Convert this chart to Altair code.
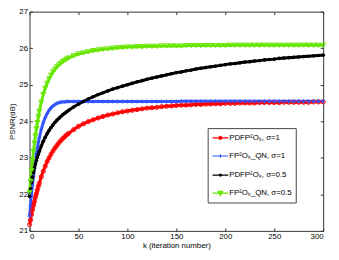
import altair as alt
import pandas as pd

k_vals = [0, 1, 2, 3, 4, 5, 6, 7, 8, 9, 10,
          12, 14, 16, 18, 20, 22, 24, 26, 28, 30, 32, 34, 36, 38, 40,
          45, 50, 55, 60, 65, 70, 75, 80, 85, 90,
          95, 100, 105, 110, 115, 120, 125, 130, 135, 140,
          145, 150, 155, 160, 165, 170, 175, 180, 185, 190,
          195, 200, 205, 210, 215, 220, 225, 230, 235, 240,
          245, 250, 255, 260, 265, 270, 275, 280, 285, 290,
          295, 300]

red = [21.17, 21.30, 21.45, 21.58, 21.70, 21.80, 21.92, 22.02, 22.12, 22.22, 22.30,
       22.48, 22.63, 22.77, 22.90, 23.00, 23.10, 23.19, 23.27, 23.34, 23.41, 23.47, 23.53, 23.58, 23.63, 23.67,
       23.77, 23.86, 23.93, 23.99, 24.04, 24.09, 24.13, 24.17, 24.20, 24.23,
       24.26, 24.28, 24.30, 24.32, 24.34, 24.36, 24.37, 24.38, 24.40, 24.41,
       24.42, 24.43, 24.44, 24.44, 24.45, 24.46, 24.46, 24.47, 24.47, 24.48,
       24.48, 24.49, 24.49, 24.49, 24.50, 24.50, 24.50, 24.50, 24.51, 24.51,
       24.51, 24.51, 24.51, 24.52, 24.52, 24.52, 24.52, 24.52, 24.52, 24.53,
       24.53, 24.53]

blue = [21.40, 21.70, 22.00, 22.25, 22.50, 22.72, 22.92, 23.10, 23.27, 23.42, 23.55,
        23.78, 23.96, 24.10, 24.21, 24.30, 24.37, 24.42, 24.46, 24.49, 24.51, 24.52, 24.53, 24.53, 24.54, 24.54,
        24.54, 24.54, 24.54, 24.54, 24.54, 24.54, 24.54, 24.54, 24.54, 24.54,
        24.54, 24.54, 24.54, 24.54, 24.54, 24.54, 24.54, 24.54, 24.54, 24.54,
        24.54, 24.54, 24.55, 24.55, 24.55, 24.55, 24.55, 24.55, 24.55, 24.55,
        24.55, 24.55, 24.55, 24.55, 24.55, 24.55, 24.55, 24.55, 24.55, 24.55,
        24.55, 24.55, 24.55, 24.55, 24.55, 24.55, 24.55, 24.55, 24.55, 24.55,
        24.55, 24.55]

black = [21.95, 22.15, 22.32, 22.47, 22.60, 22.72, 22.83, 22.93, 23.02, 23.10, 23.18,
         23.32, 23.45, 23.56, 23.66, 23.75, 23.83, 23.90, 23.97, 24.03, 24.08, 24.13, 24.18, 24.22, 24.26, 24.30,
         24.39, 24.47, 24.54, 24.61, 24.67, 24.73, 24.78, 24.83, 24.88, 24.92,
         24.96, 25.00, 25.04, 25.08, 25.11, 25.15, 25.18, 25.21, 25.24, 25.27,
         25.30, 25.33, 25.35, 25.38, 25.40, 25.43, 25.45, 25.47, 25.49, 25.51,
         25.53, 25.55, 25.57, 25.58, 25.60, 25.62, 25.63, 25.65, 25.66, 25.68,
         25.69, 25.70, 25.72, 25.73, 25.74, 25.75, 25.76, 25.77, 25.78, 25.79,
         25.80, 25.81]

green = [22.05, 22.35, 22.65, 22.92, 23.17, 23.40, 23.60, 23.79, 23.96, 24.12, 24.27,
         24.52, 24.73, 24.90, 25.04, 25.16, 25.26, 25.35, 25.42, 25.49, 25.54, 25.59, 25.63, 25.67, 25.70, 25.73,
         25.79, 25.84, 25.87, 25.90, 25.93, 25.95, 25.97, 25.98, 26.00, 26.01,
         26.02, 26.03, 26.03, 26.04, 26.04, 26.05, 26.05, 26.05, 26.06, 26.06,
         26.06, 26.06, 26.06, 26.07, 26.07, 26.07, 26.07, 26.07, 26.07, 26.07,
         26.07, 26.07, 26.08, 26.08, 26.08, 26.08, 26.08, 26.08, 26.08, 26.08,
         26.08, 26.08, 26.08, 26.08, 26.08, 26.08, 26.08, 26.08, 26.08, 26.08,
         26.08, 26.08]

series_names = ["PDFP²Oₖ, σ=1", "FP²Oₖ_QN, σ=1", "PDFP²Oₖ, σ=0.5", "FP²Oₖ_QN, σ=0.5"]
colors = ["#ff0000", "#3355ff", "#000000", "#66e600"]
x_ticks = [0, 50, 100, 150, 200, 250, 300]
y_ticks = [21, 22, 23, 24, 25, 26, 27]

rows = []
for name, vals in zip(series_names, [red, blue, black, green]):
    for k, v in zip(k_vals, vals):
        rows.append({"k": k, "psnr": v, "series": name})
df = pd.DataFrame(rows)

FONT = "Liberation Sans"
xs = alt.Scale(domain=[0, 300], nice=False, zero=False)
ys = alt.Scale(domain=[21, 27], nice=False, zero=False)
cs = alt.Scale(domain=series_names, range=colors)

common = dict(domain=False, grid=False, ticks=True, tickSize=3, offset=-3,
              tickColor="#333", labelFont=FONT, labelFontSize=8, labelColor="black",
              titleFont=FONT, titleFontSize=8, titleFontWeight="normal", titleColor="black",
              labelPadding=2)

x_axis = alt.Axis(values=x_ticks, title="k (iteration number)", titlePadding=1, **common)
y_axis = alt.Axis(values=y_ticks, title="PSNR(dB)", titlePadding=2, **common)
x_top = alt.Axis(values=x_ticks, orient="top", labels=False, title=None, domain=False, grid=False,
                 tickSize=3, offset=-3, tickColor="#333")
y_right = alt.Axis(values=y_ticks, orient="right", labels=False, title=None, domain=False, grid=False,
                   tickSize=3, offset=-3, tickColor="#333")

lines = alt.Chart(df).mark_line(strokeWidth=3).encode(
    x=alt.X("k:Q", scale=xs, axis=x_axis),
    y=alt.Y("psnr:Q", scale=ys, axis=y_axis),
    color=alt.Color("series:N", scale=cs, legend=None),
)

marker_specs = [
    ("circle", False, 18),
    ("M-1,0H1M0,-1V1", False, 16),
    ("circle", True, 14),
    ("triangle-down", False, 26),
]
marker_layers = []
for name, col, (shp, filled, size) in zip(series_names, colors, marker_specs):
    marker_layers.append(
        alt.Chart(df).transform_filter(alt.FieldEqualPredicate(field="series", equal=name))
        .mark_point(shape=shp, filled=filled, size=size, color=col, strokeWidth=1, opacity=1)
        .encode(x=alt.X("k:Q", scale=xs, axis=None), y=alt.Y("psnr:Q", scale=ys, axis=None))
    )

legend_paths = [
    "M-1.6,0H1.6M-0.3,0A0.3,0.3 0 1,0 0.3,0A0.3,0.3 0 1,0 -0.3,0",
    "M-1.6,0H1.6M0,-0.35V0.35",
    "M-1.6,0H1.6M-0.2,0A0.2,0.2 0 1,0 0.2,0A0.2,0.2 0 1,0 -0.2,0",
    "M-1.6,0H1.6M-0.45,-0.4L0.45,-0.4L0,0.45Z",
]


def leg():
    return alt.Legend(title=None, orient="none", legendX=182, legendY=119, offset=0,
                      symbolSize=100, symbolStrokeWidth=1.2, symbolOffset=3, symbolOpacity=1,
                      labelFont=FONT, labelFontSize=8, labelColor="black", labelOffset=3,
                      strokeColor="#444", fillColor="white", padding=4, rowPadding=8.5)


legend_layer = alt.Chart(df).mark_point(filled=True, strokeWidth=1.2, opacity=0).encode(
    x=alt.X("k:Q", scale=xs, axis=x_top),
    y=alt.Y("psnr:Q", scale=ys, axis=y_right),
    fill=alt.Fill("series:N", scale=alt.Scale(domain=series_names, range=colors), legend=leg()),
    stroke=alt.Stroke("series:N", scale=alt.Scale(domain=series_names, range=colors), legend=leg()),
    shape=alt.Shape("series:N", scale=alt.Scale(domain=series_names, range=legend_paths), legend=leg()),
)

chart = alt.layer(lines, *marker_layers, legend_layer).resolve_axis(
    x="independent", y="independent"
).resolve_legend(
    color="independent", fill="independent", stroke="independent", shape="independent"
).properties(
    width=300, height=224,
    autosize=alt.AutoSizeParams(type="none"),
    padding={"left": 22, "top": 1, "right": 8, "bottom": 26},
).configure(font=FONT).configure_view(stroke="#333", strokeWidth=1)

chart.save("out.html", embed_options={"renderer": "svg", "actions": False})
